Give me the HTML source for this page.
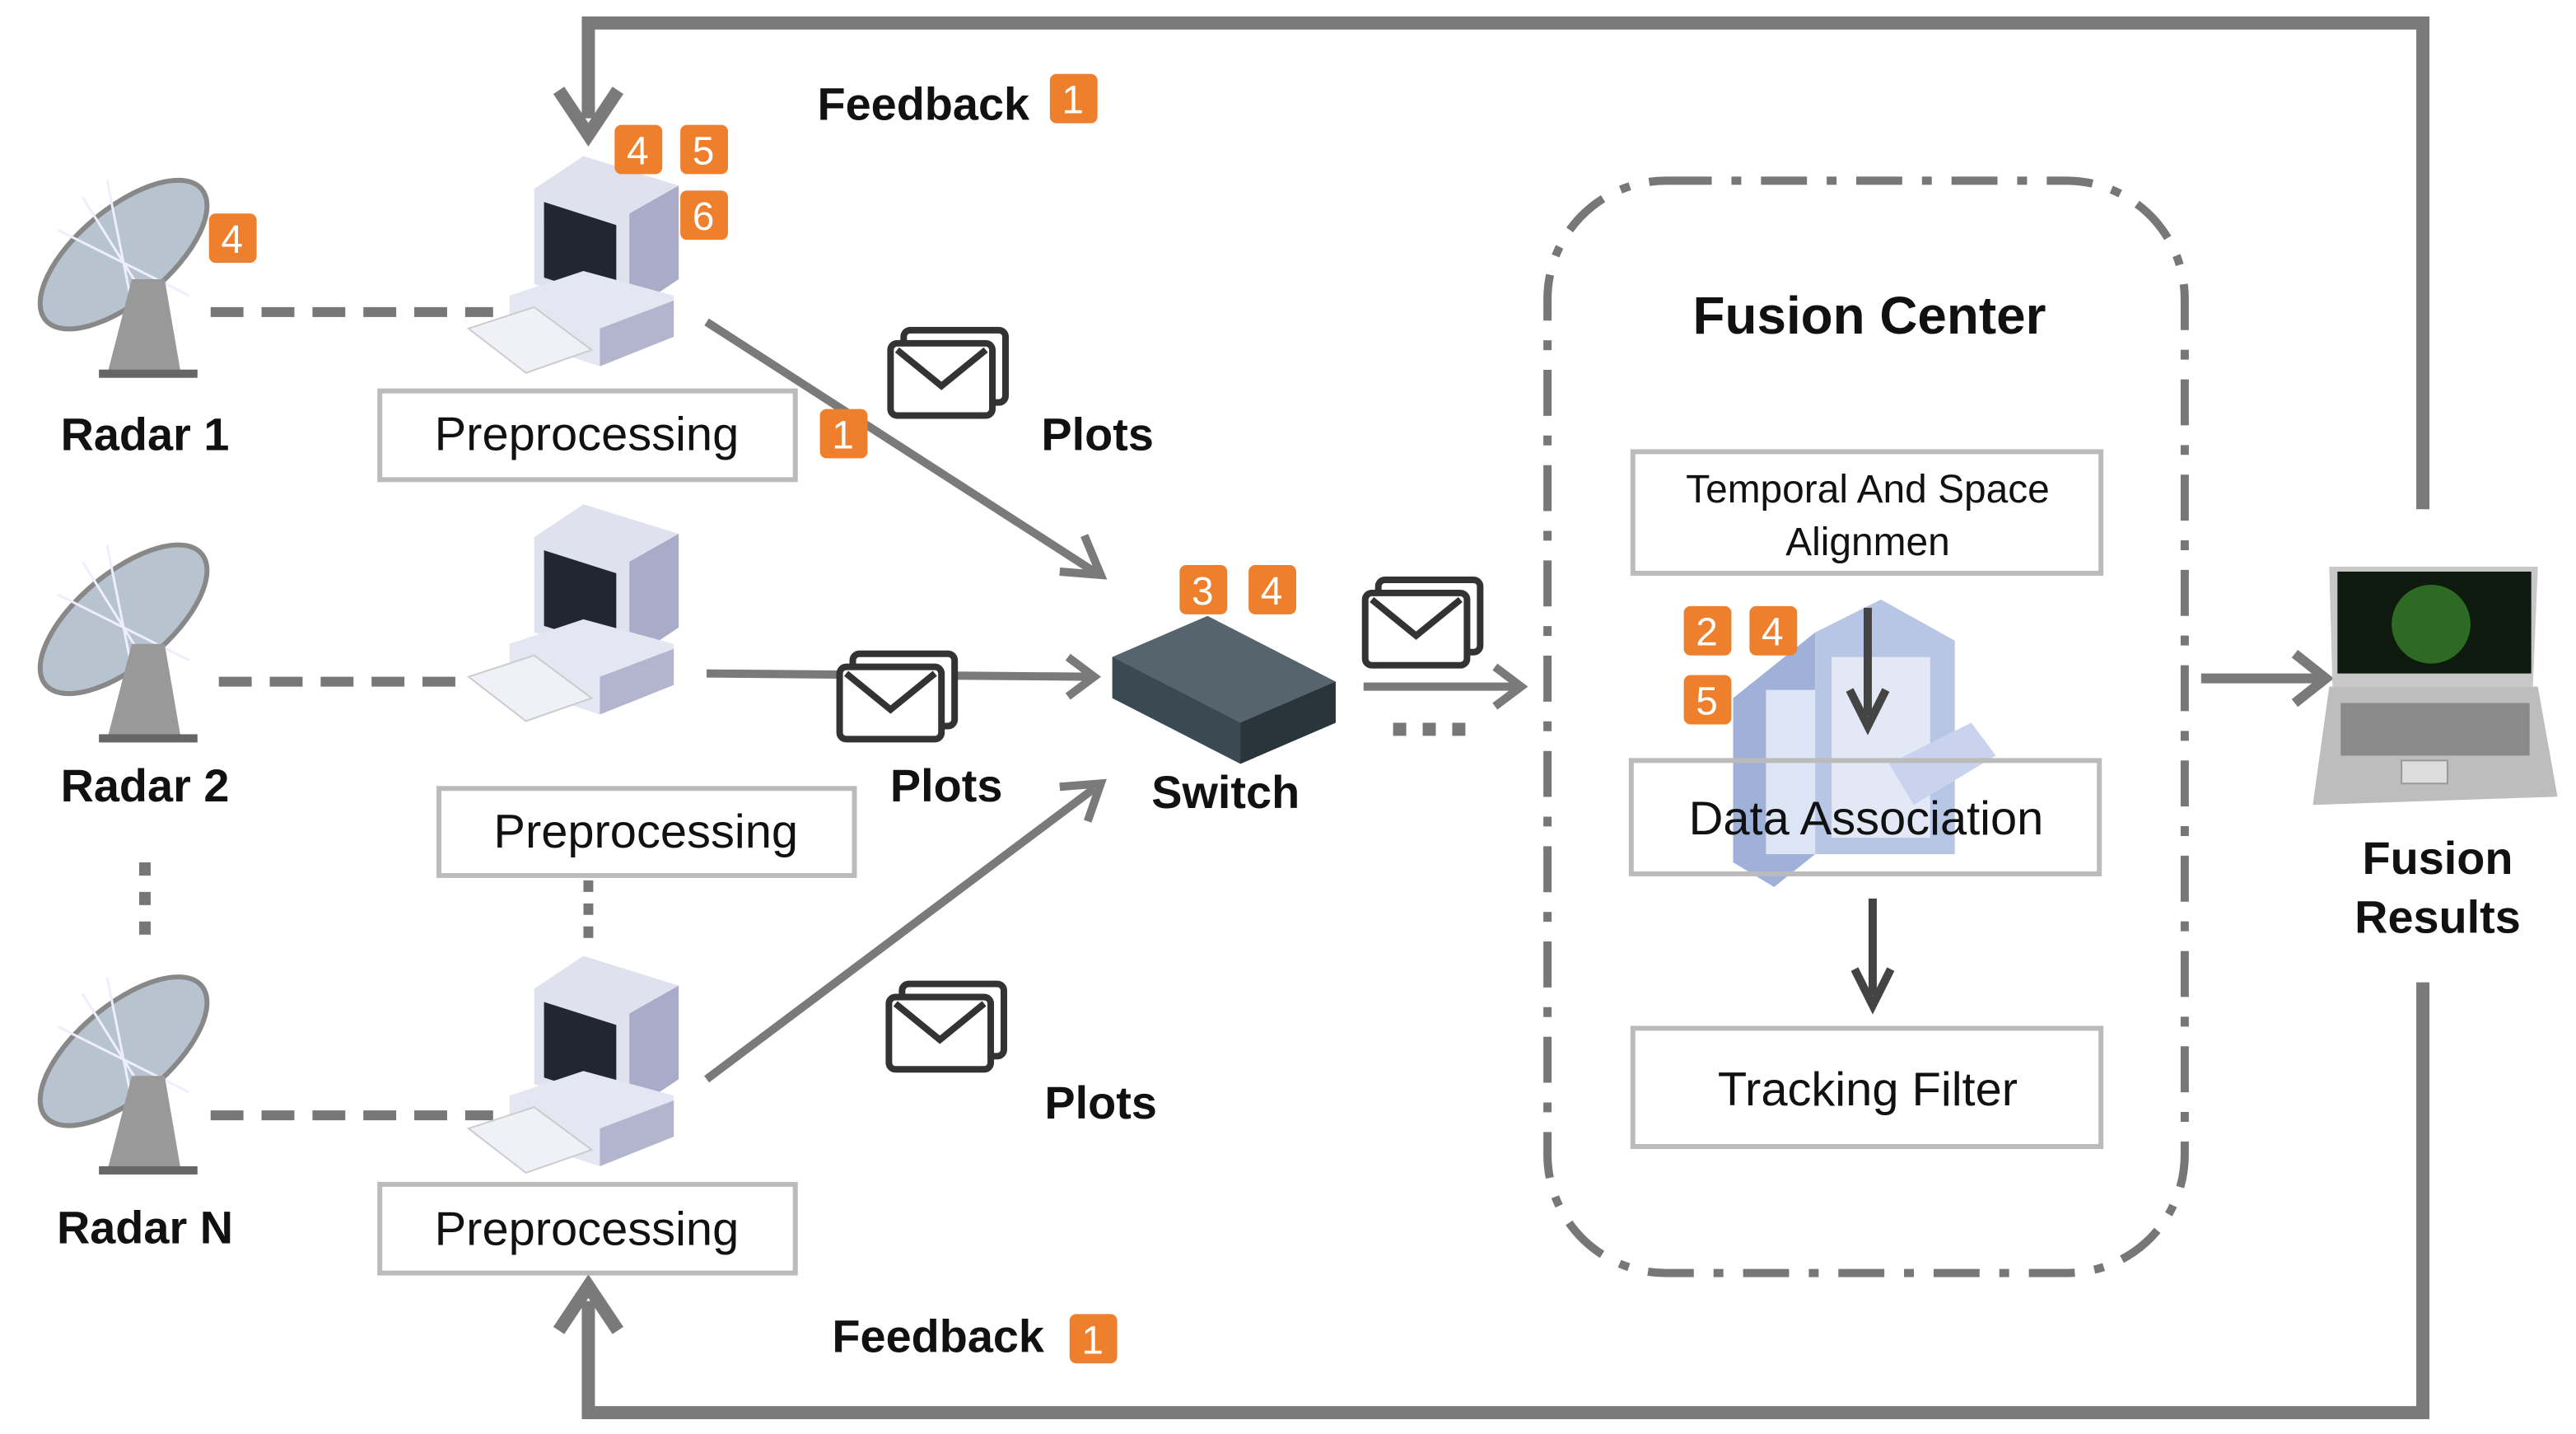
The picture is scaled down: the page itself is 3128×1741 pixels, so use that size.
<!DOCTYPE html>
<html><head><meta charset="utf-8"><style>
html,body{margin:0;padding:0;background:#fff;}
svg{display:block;}
text{font-family:"Liberation Sans",Arial,sans-serif;}
.b{font-weight:bold;font-size:28px;fill:#111;text-anchor:middle;}
.bx{fill:#fff;stroke:#bbb;stroke-width:3;}
.t{font-size:29px;fill:#111;text-anchor:middle;}
.ln{stroke:#7a7a7a;fill:none;}
</style></head><body>
<svg width="3128" height="1741" viewBox="0 0 1568 873" xmlns="http://www.w3.org/2000/svg">
<defs>
<g id="badge"><rect x="0" y="0" width="29" height="30" rx="4" fill="#ee7f2d"/></g>
<g id="env"><rect x="8" y="0" width="62" height="44" rx="4" fill="#fff" stroke="#333" stroke-width="4"/><rect x="0" y="8" width="62" height="44" rx="4" fill="#fff" stroke="#333" stroke-width="4"/><path d="M4 12 L31 34 L58 12" fill="none" stroke="#333" stroke-width="4"/></g>
<g id="radar">
<ellipse cx="70" cy="55" rx="62" ry="28" transform="rotate(-40 70 55)" fill="#b7c3cf" stroke="#888" stroke-width="3"/>
<path d="M30 40 L110 80 M45 20 L95 100 M60 10 L80 110" stroke="#eef" stroke-width="1.5"/>
<polygon points="75,70 95,70 105,128 60,128" fill="#999"/>
<rect x="55" y="125" width="60" height="5" fill="#666"/>
</g>
<g id="pc">
<polygon points="40,20 70,0 128,18 128,75 98,95 40,78" fill="#dfe1ef"/>
<polygon points="98,35 128,18 128,75 98,95" fill="#a9abc8"/>
<polygon points="46,28 90,42 90,88 46,74" fill="#222630"/>
<polygon points="25,85 70,70 125,85 125,110 80,128 25,110" fill="#e4e6f2"/>
<polygon points="80,105 125,88 125,110 80,128" fill="#b3b5cf"/>
<polygon points="0,105 40,92 75,118 35,132" fill="#f0f1f8" stroke="#ccc"/>
</g>
</defs>
<rect width="1568" height="873" fill="#fff"/>

<!-- feedback loops -->
<path d="M1475 310 V14 H358 V72" class="ln" stroke-width="8"/>
<path d="M340 55 L358 82 L376 55" class="ln" stroke-width="8"/>
<path d="M1475 598 V860 H358 V792" class="ln" stroke-width="8"/>
<path d="M340 810 L358 783 L376 810" class="ln" stroke-width="8"/>
<text x="562" y="73" class="b">Feedback</text>
<use href="#badge" x="639" y="45"/><text x="653" y="69" fill="#fff" font-size="24" text-anchor="middle">1</text>
<text x="571" y="823" class="b">Feedback</text>
<use href="#badge" x="651" y="800"/><text x="665" y="824" fill="#fff" font-size="24" text-anchor="middle">1</text>

<!-- radars -->
<use href="#radar" x="5" y="100"/>
<use href="#radar" x="5" y="322"/>
<use href="#radar" x="5" y="585"/>
<text x="88" y="274" class="b">Radar 1</text>
<text x="88" y="488" class="b">Radar 2</text>
<text x="88" y="757" class="b">Radar N</text>
<path d="M88 525 V572" stroke="#777" stroke-width="7" stroke-dasharray="8 10"/>
<path d="M128 190 H300" stroke="#777" stroke-width="6" stroke-dasharray="20 11"/>
<path d="M133 415 H282" stroke="#777" stroke-width="6" stroke-dasharray="20 11"/>
<path d="M128 679 H300" stroke="#777" stroke-width="6" stroke-dasharray="20 11"/>

<!-- computers -->
<use href="#pc" x="285" y="95"/>
<use href="#pc" x="285" y="307"/>
<use href="#pc" x="285" y="582"/>

<rect x="231" y="238" width="253" height="54" class="bx"/><text x="357" y="274" class="t">Preprocessing</text>
<rect x="267" y="480" width="253" height="53" class="bx"/><text x="393" y="516" class="t">Preprocessing</text>
<rect x="231" y="721" width="253" height="54" class="bx"/><text x="357" y="758" class="t">Preprocessing</text>
<path d="M358 536 V572" stroke="#777" stroke-width="6" stroke-dasharray="7 7"/>

<!-- arrows to switch -->
<path d="M430 196 L666 348" class="ln" stroke-width="5"/>
<path d="M645 348 L670 350 L660 326" class="ln" stroke-width="5"/>
<path d="M430 410 L664 412" class="ln" stroke-width="5"/>
<path d="M650 400 L666 412 L650 424" class="ln" stroke-width="5"/>
<path d="M430 657 L666 480" class="ln" stroke-width="5"/>
<path d="M645 479 L670 477 L662 500" class="ln" stroke-width="5"/>

<use href="#env" x="542" y="201"/>
<use href="#env" x="511" y="398"/>
<use href="#env" x="541" y="599"/>
<use href="#env" x="831" y="353"/>
<text x="668" y="274" class="b">Plots</text>
<text x="576" y="488" class="b">Plots</text>
<text x="670" y="681" class="b">Plots</text>

<!-- switch -->
<polygon points="677,400 735,375 813,415 813,440 755,465 677,425" fill="#3b4a52"/>
<polygon points="677,400 735,375 813,415 755,440" fill="#56656d"/>
<polygon points="755,440 813,415 813,440 755,465" fill="#2a353b"/>
<text x="746" y="492" class="b">Switch</text>

<path d="M830 418 H922" class="ln" stroke-width="5"/>
<path d="M910 406 L926 418 L910 430" class="ln" stroke-width="5"/>
<path d="M848 444 H893" stroke="#777" stroke-width="8" stroke-dasharray="8 10"/>

<!-- fusion center -->
<rect x="942" y="110" width="388" height="665" rx="72" fill="none" stroke="#777" stroke-width="5" stroke-dasharray="28 12 6 12"/>
<text x="1138" y="203" font-size="32" font-weight="bold" fill="#111" text-anchor="middle">Fusion Center</text>
<rect x="994" y="275" width="285" height="74" class="bx"/>
<text x="1137" y="306" font-size="24" fill="#111" text-anchor="middle">Temporal And Space</text>
<text x="1137" y="338" font-size="24" fill="#111" text-anchor="middle">Alignmen</text>

<!-- server -->
<polygon points="1055,425 1105,385 1105,520 1080,540 1055,525" fill="#9fb1d9"/>
<polygon points="1105,385 1145,365 1190,390 1190,520 1105,520" fill="#b8c6e6"/>
<rect x="1075" y="420" width="30" height="100" fill="#dde4f4"/>
<rect x="1115" y="400" width="60" height="110" fill="#e2e8f5"/>
<polygon points="1150,465 1200,440 1215,460 1165,490" fill="#c9d3ee"/>

<rect x="993" y="463" width="285" height="69" fill="none" stroke="#bbb" stroke-width="3"/>
<text x="1136" y="508" font-size="29" fill="#111" text-anchor="middle">Data Association</text>
<path d="M1137 370 V436" stroke="#444" stroke-width="5"/>
<path d="M1126 420 L1137 442 L1148 420" fill="none" stroke="#444" stroke-width="5"/>
<path d="M1140 547 V606" stroke="#444" stroke-width="5"/>
<path d="M1129 590 L1140 612 L1151 590" fill="none" stroke="#444" stroke-width="5"/>
<rect x="994" y="626" width="285" height="72" class="bx"/>
<text x="1137" y="673" class="t">Tracking Filter</text>

<!-- laptop -->
<path d="M1340 413 H1412" class="ln" stroke-width="6"/>
<path d="M1397 398 L1416 413 L1397 428" class="ln" stroke-width="6"/>
<polygon points="1418,345 1545,345 1542,418 1420,418" fill="#c8c8c8"/>
<rect x="1423" y="348" width="118" height="62" fill="#0d1a0d"/>
<circle cx="1480" cy="380" r="24" fill="#2d6b25"/>
<polygon points="1418,418 1545,418 1557,485 1408,490" fill="#bdbdbd"/>
<rect x="1425" y="428" width="115" height="32" fill="#8a8a8a"/>
<rect x="1462" y="463" width="28" height="14" fill="#ddd" stroke="#999"/>

<text x="1484" y="532" class="b">Fusion</text>
<text x="1484" y="568" class="b">Results</text>

<!-- badges -->
<g fill="#fff" font-size="24" text-anchor="middle">
<use href="#badge" x="127" y="130"/><text x="141" y="154">4</text>
<use href="#badge" x="374" y="76"/><text x="388" y="100">4</text>
<use href="#badge" x="414" y="76"/><text x="428" y="100">5</text>
<use href="#badge" x="414" y="116"/><text x="428" y="140">6</text>
<use href="#badge" x="499" y="249"/><text x="513" y="273">1</text>
<use href="#badge" x="718" y="344"/><text x="732" y="368">3</text>
<use href="#badge" x="760" y="344"/><text x="774" y="368">4</text>
<use href="#badge" x="1025" y="369"/><text x="1039" y="393">2</text>
<use href="#badge" x="1065" y="369"/><text x="1079" y="393">4</text>
<use href="#badge" x="1025" y="411"/><text x="1039" y="435">5</text>
</g>
</svg>
</body></html>
